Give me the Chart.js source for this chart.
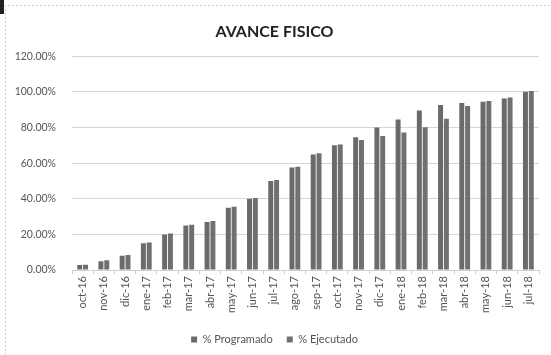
<!DOCTYPE html>
<html>
<head>
<meta charset="utf-8">
<script src="https://cdn.jsdelivr.net/npm/chart.js@4/dist/chart.umd.min.js"></script>
<style>
  html, body { margin: 0; padding: 0; background: #fff; }
  #wrap { position: relative; width: 551px; height: 355px; }
  #mark { position: absolute; left: 0; top: 0; width: 4px; height: 14px; background: #222; }
</style>
</head>
<body>
<div id="wrap">
  <canvas id="chart-avance" width="551" height="355"></canvas>
  <div id="mark"></div>
</div>
<script>
// meses del periodo
var meses = ['oct-16','nov-16','dic-16','ene-17','feb-17','mar-17','abr-17','may-17','jun-17','jul-17','ago-17',
             'sep-17','oct-17','nov-17','dic-17','ene-18','feb-18','mar-18','abr-18','may-18','jun-18','jul-18'];
var programado = [0.028, 0.050, 0.080, 0.150, 0.200, 0.250, 0.270, 0.350, 0.400, 0.500, 0.575,
                  0.648, 0.700, 0.745, 0.800, 0.845, 0.896, 0.926, 0.937, 0.945, 0.963, 1.000];
var ejecutado  = [0.030, 0.055, 0.085, 0.155, 0.205, 0.255, 0.275, 0.355, 0.405, 0.505, 0.580,
                  0.655, 0.705, 0.730, 0.753, 0.772, 0.802, 0.849, 0.920, 0.948, 0.969, 1.005];
var yTicks = [0, 0.2, 0.4, 0.6, 0.8, 1.0, 1.2];

var fontFam = 'Lato, "Open Sans", sans-serif';

// marco del grafico (lineas punteadas arriba e izquierda)
var marco = {
  id: 'marco',
  beforeDraw: function (chart) {
    var c = chart.ctx;
    c.save();
    c.strokeStyle = '#cfcfcf';
    c.setLineDash([2, 2]);
    c.beginPath();
    c.moveTo(5.5, 355); c.lineTo(5.5, 5.5); c.lineTo(551, 5.5);
    c.stroke();
    c.restore();
  }
};

var ctx = document.getElementById('chart-avance').getContext('2d');
new Chart(ctx, {
  type: 'bar',
  data: {
    labels: meses,
    datasets: [
      { label: '% Programado', data: programado, backgroundColor: '#6a6a6a' },
      { label: '% Ejecutado', data: ejecutado, backgroundColor: '#707070' }
    ]
  },
  options: {
    responsive: false,
    animation: false,
    layout: { padding: { top: 18, right: 12, left: 10, bottom: 0 } },
    datasets: { bar: { categoryPercentage: 0.55, barPercentage: 0.85 } },
    plugins: {
      title: {
        display: true,
        text: 'AVANCE FISICO',
        color: '#222',
        font: { family: fontFam, size: 16, weight: 'bold' },
        padding: { top: 4, bottom: 15 }
      },
      legend: {
        position: 'bottom',
        labels: {
          boxWidth: 6, boxHeight: 6, color: '#555',
          font: { family: fontFam, size: 11 },
          padding: 14
        }
      },
      tooltip: { enabled: false }
    },
    scales: {
      x: {
        afterFit: function (s) { s.height += 5; },
        grid: { drawOnChartArea: false, color: '#cfcfcf', tickLength: 4 },
        border: { color: '#cfcfcf' },
        ticks: {
          color: '#555', minRotation: 90, maxRotation: 90, autoSkip: false,
          font: { family: fontFam, size: 11 }, padding: 2
        }
      },
      y: {
        min: 0, max: 1.2,
        afterBuildTicks: function (s) { s.ticks = yTicks.map(function (v) { return { value: v }; }); },
        afterFit: function (s) { s.width = 62; },
        grid: { color: '#d6d6d6', drawTicks: false },
        border: { display: false },
        ticks: {
          color: '#555', padding: 16,
          font: { family: fontFam, size: 10.5 },
          callback: function (v) { return (v * 100).toFixed(2) + '%'; }
        }
      }
    }
  },
  plugins: [marco]
});
</script>
</body>
</html>
